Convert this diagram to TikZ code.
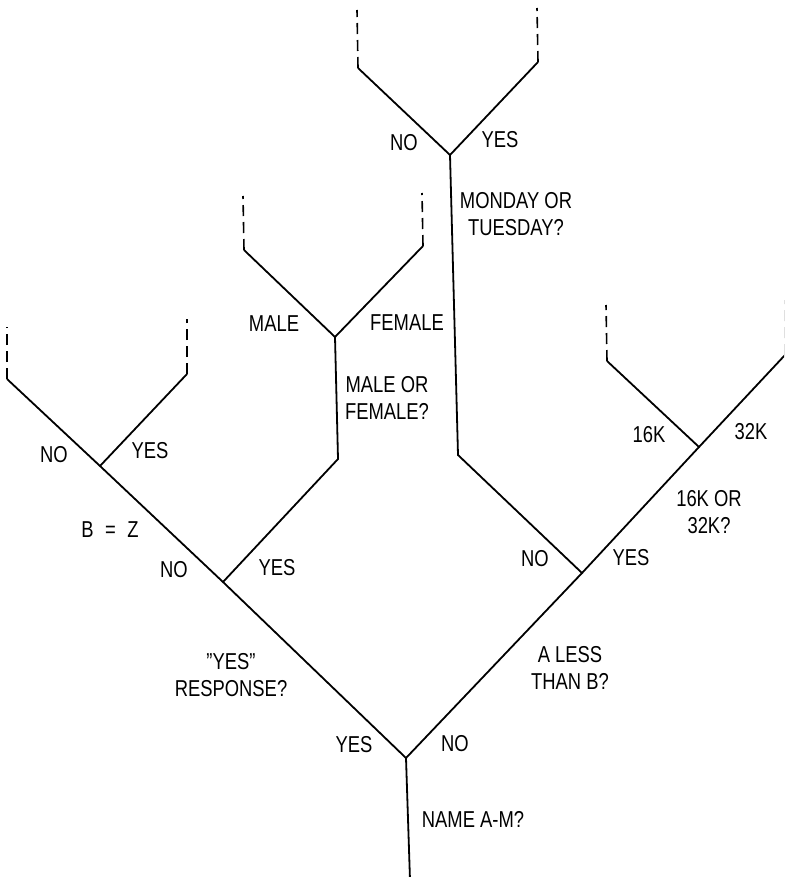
\documentclass[tikz,border=0pt]{standalone}
\usepackage{fontspec}
\setmainfont[FakeStretch=0.8]{Liberation Sans}

\begin{document}
\begin{tikzpicture}[x=1pt,y=-1pt,
    branch/.style={line width=1.8pt},
    open/.style={line width=1.6pt,dash pattern=on 11pt off 6pt},
    lbl/.style={font=\fontsize{23}{27}\selectfont,inner sep=0pt,align=center}]
  \useasboundingbox (0,0) rectangle (784,877);
  \clip (0,0) rectangle (784,877);

  % Forks of the tree
  \coordinate (base) at (410,880);
  \coordinate (name) at (406,758);
  \coordinate (resp) at (223,582);
  \coordinate (bz) at (100,466);
  \coordinate (bzno) at (7,379);
  \coordinate (bznoend) at (7,327);
  \coordinate (bzyes) at (187,374);
  \coordinate (bzyesend) at (187,319);
  \coordinate (respbend) at (338,459);
  \coordinate (sex) at (335,337);
  \coordinate (male) at (244,250);
  \coordinate (maleend) at (243,196);
  \coordinate (female) at (423,246);
  \coordinate (femaleend) at (422,193);
  \coordinate (less) at (582,573);
  \coordinate (lessbend) at (458,455);
  \coordinate (day) at (450,155);
  \coordinate (dayno) at (358,68);
  \coordinate (daynoend) at (357,10);
  \coordinate (dayyes) at (538,62);
  \coordinate (dayyesend) at (537,8);
  \coordinate (mem) at (699,447);
  \coordinate (sixteen) at (607,361);
  \coordinate (sixteenend) at (606,305);
  \coordinate (thirtytwo) at (785,355);
  \coordinate (thirtytwoend) at (785,300);

  % Branches
  \draw[branch] (base) -- (name) -- (resp) -- (bz) -- (bzno);
  \draw[branch] (bz) -- (bzyes);
  \draw[branch] (resp) -- (respbend) -- (sex) -- (male);
  \draw[branch] (sex) -- (female);
  \draw[branch] (name) -- (less) -- (lessbend) -- (day) -- (dayno);
  \draw[branch] (day) -- (dayyes);
  \draw[branch] (less) -- (mem) -- (sixteen);
  \draw[branch] (mem) -- (thirtytwo);

  % Loose ends
  \foreach \a/\b in {bzno/bznoend,bzyes/bzyesend,male/maleend,female/femaleend,
      dayno/daynoend,dayyes/dayyesend,sixteen/sixteenend,thirtytwo/thirtytwoend}
    \draw[open] (\a) -- (\b);

  % Labels
  \node[lbl] (qname) at (473,819) {NAME A-M?};
  \node[lbl] (yes1) at (354,745) {YES};
  \node[lbl] (no1) at (455,744) {NO};
  \node[lbl] (qresp) at (231,675) {''YES''\\RESPONSE?};
  \node[lbl] (qless) at (570,668) {A LESS\\THAN B?};
  \node[lbl] (no2) at (174,570) {NO};
  \node[lbl] (yes2) at (277,568) {YES};
  \node[lbl] (qbz) at (110,530) {B\enspace=\enspace Z};
  \node[lbl] (no3) at (54,455) {NO};
  \node[lbl] (yes3) at (150,451) {YES};
  \node[lbl] (lmale) at (274,324) {MALE};
  \node[lbl] (lfemale) at (407,323) {FEMALE};
  \node[lbl] (qsex) at (387,398) {MALE OR\\FEMALE?};
  \node[lbl] (no4) at (404,143) {NO};
  \node[lbl] (yes4) at (500,140) {YES};
  \node[lbl] (qday) at (516,214) {MONDAY OR\\TUESDAY?};
  \node[lbl] (no5) at (535,559) {NO};
  \node[lbl] (yes5) at (631,558) {YES};
  \node[lbl] (qmem) at (709,512) {16K OR\\32K?};
  \node[lbl] (l16) at (649,435) {16K};
  \node[lbl] (l32) at (751,432) {32K};
\end{tikzpicture}
\end{document}
